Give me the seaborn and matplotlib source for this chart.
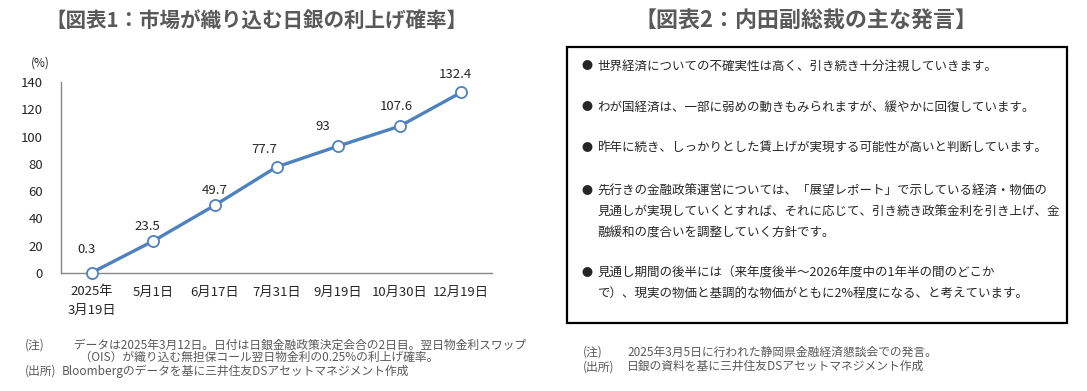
import matplotlib
matplotlib.use("Agg")
import matplotlib.pyplot as plt
import seaborn as sns
import pandas as pd
from matplotlib.patches import Rectangle
from matplotlib.ticker import FixedLocator

# data
dates = ["2025年\n3月19日", "5月1日", "6月17日", "7月31日", "9月19日", "10月30日", "12月19日"]
prob = [0.3, 23.5, 49.7, 77.7, 93, 107.6, 132.4]
prob_labels = ["0.3", "23.5", "49.7", "77.7", "93", "107.6", "132.4"]
yticks = [0, 20, 40, 60, 80, 100, 120, 140]

title1 = "【図表1：市場が織り込む日銀の利上げ確率】"
title2 = "【図表2：内田副総裁の主な発言】"
notes1 = ["データは2025年3月12日。日付は日銀金融政策決定会合の2日目。翌日物金利スワップ",
          "（OIS）が織り込む無担保コール翌日物金利の0.25%の利上げ確率。",
          "Bloombergのデータを基に三井住友DSアセットマネジメント作成"]
notes2 = ["2025年3月5日に行われた静岡県金融経済懇談会での発言。",
          "日銀の資料を基に三井住友DSアセットマネジメント作成"]
remarks = [
    ["世界経済についての不確実性は高く、引き続き十分注視していきます。"],
    ["わが国経済は、一部に弱めの動きもみられますが、緩やかに回復しています。"],
    ["昨年に続き、しっかりとした賃上げが実現する可能性が高いと判断しています。"],
    ["先行きの金融政策運営については、「展望レポート」で示している経済・物価の",
     "見通しが実現していくとすれば、それに応じて、引き続き政策金利を引き上げ、金",
     "融緩和の度合いを調整していく方針です。"],
    ["見通し期間の後半には（来年度後半～2026年度中の1年半の間のどこか",
     "で）、現実の物価と基調的な物価がともに2%程度になる、と考えています。"],
]

sns.set_style("white")
plt.rcParams['font.family'] = ['Noto Sans CJK JP', 'DejaVu Sans']

W, H = 1087, 391
fig = plt.figure(figsize=(W / 100, H / 100), dpi=100)


def px(x, y):
    return x / W, 1 - y / H


gray = "#595959"
fig.text(*px(256, 21), title1, ha="center", va="center", fontsize=14.8,
         fontweight="bold", color=gray)
fig.text(*px(806, 21), title2, ha="center", va="center", fontsize=15.8,
         fontweight="bold", color=gray)

# chart 1
ax = fig.add_axes([61 / W, 1 - 273 / H, (492 - 61) / W, (273 - 82) / H])
df = pd.DataFrame({"x": range(len(dates)), "y": prob})
sns.lineplot(data=df, x="x", y="y", ax=ax, color="#4F81BD", linewidth=2.4,
             marker="o", markersize=8, markerfacecolor="white",
             markeredgecolor="#4F81BD", markeredgewidth=1.3, clip_on=False, zorder=3)
ax.set_xlim(-0.5, len(dates) - 0.5)
ax.set_ylim(0, 140)
ax.set_yticks(yticks)
ax.set_xticks(range(len(dates)))
ax.set_xticklabels(dates, fontsize=9.5, linespacing=1.55)
ax.xaxis.set_minor_locator(FixedLocator([i - 0.5 for i in range(len(dates) + 1)]))
ax.tick_params(axis="x", which="major", length=0, pad=9)
ax.tick_params(axis="x", which="minor", length=4, color="#868686", direction="out")
ax.tick_params(axis="y", length=4, color="#868686", direction="out", labelsize=9.5, pad=9)
ax.set_xlabel("")
ax.set_ylabel("")
for s in ["top", "right"]:
    ax.spines[s].set_visible(False)
for s in ["left", "bottom"]:
    ax.spines[s].set_color("#868686")
    ax.spines[s].set_linewidth(1)
ax.text(-0.025, 1.10, "(%)", transform=ax.transAxes, ha="right", va="center", fontsize=8.5)

label_off = [(-5, 23), (-6, 14), (0, 15), (-12, 17), (-15, 20), (-3, 20), (-6, 18)]
for i, (v, t) in enumerate(zip(prob, prob_labels)):
    dx, dy = label_off[i]
    ax.annotate(t, (i, v), xytext=(dx * 0.72, dy * 0.72), textcoords="offset points",
                ha="center", va="center", fontsize=9.5, color="#262626")

# notes 1 (one block per column so lines do not collide)
nfs = 8.5
fig.text(*px(25, 358), "(注)\n\n(出所)", fontsize=nfs, color=gray, va="center",
         linespacing=1.0)
block1 = ("\u2002\u2002" + notes1[0] + "\n\u3000\u2002" + notes1[1] + "\n" + notes1[2])
fig.text(*px(62, 358), block1, fontsize=nfs, color=gray, va="center", linespacing=1.0)

# box 2
fig.patches.append(Rectangle(px(567, 323), 500 / W, 276 / H, transform=fig.transFigure,
                             fill=False, edgecolor="black", linewidth=1.6))
ys = [66, 107, 148, 191, 273]
for y0, lines in zip(ys, remarks):
    fig.text(*px(587, y0), "●", fontsize=8, color="#262626", ha="center", va="center")
    for j, line in enumerate(lines):
        fig.text(*px(597, y0 + 21 * j), line, fontsize=9, color="#262626", va="center")

# notes 2
fig.text(*px(583, 359.5), "(注)\n(出所)", fontsize=nfs, color=gray, va="center",
         linespacing=1.15)
fig.text(*px(627, 359.5), "\n".join(notes2), fontsize=nfs, color=gray, va="center",
         linespacing=1.15)

fig.savefig("out.png", dpi=100)
